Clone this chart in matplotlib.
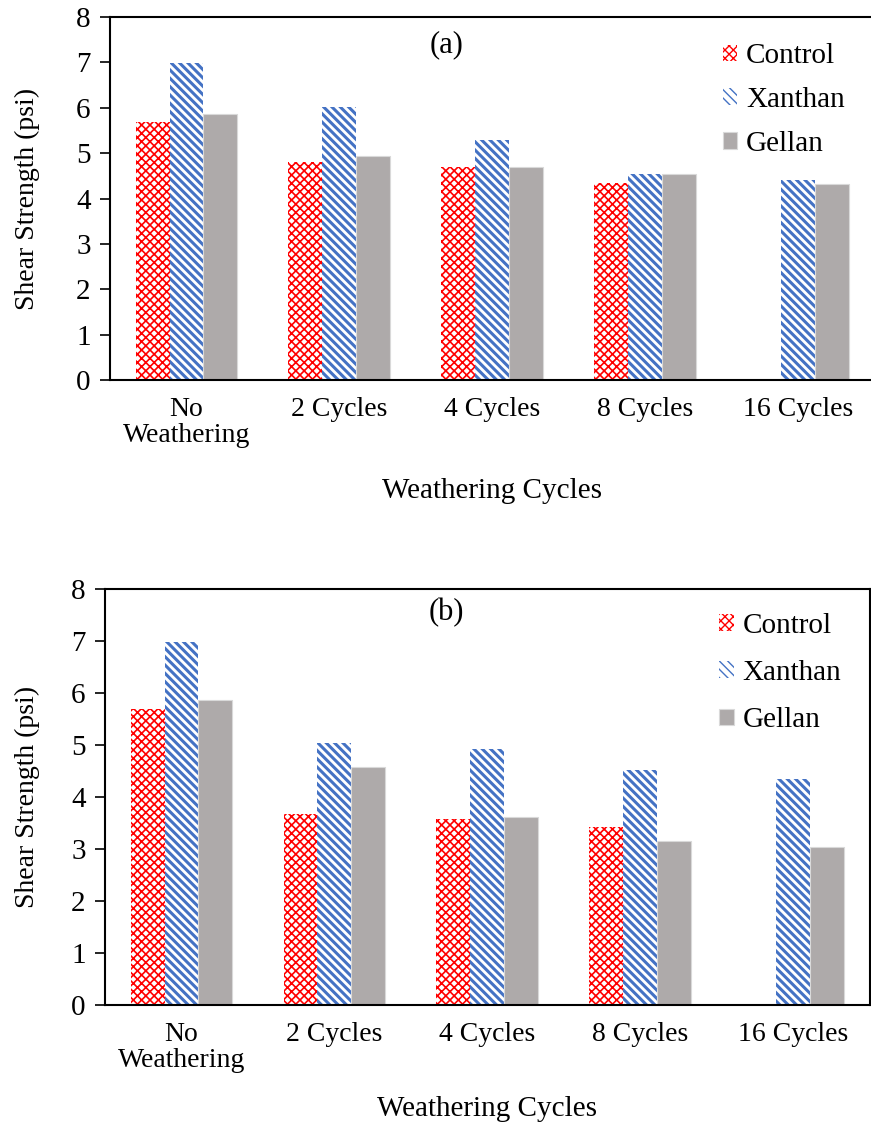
import numpy as np
import matplotlib.pyplot as plt

plt.rcParams['font.family'] = ['Liberation Serif', 'DejaVu Serif']

categories = ["No\nWeathering", "2 Cycles", "4 Cycles", "8 Cycles", "16 Cycles"]
series = ["Control", "Xanthan", "Gellan"]

# panel (a)
control_a = [5.68, 4.80, 4.69, 4.34, 0]
xanthan_a = [6.98, 6.01, 5.29, 4.54, 4.41]
gellan_a = [5.86, 4.93, 4.69, 4.53, 4.32]

# panel (b)
control_b = [5.69, 3.68, 3.58, 3.42, 0]
xanthan_b = [6.98, 5.04, 4.92, 4.52, 4.35]
gellan_b = [5.87, 4.58, 3.62, 3.15, 3.04]

red = "#FF0000"
blue = "#4472C4"
gray = "#AEAAAA"


def hatched_bars(ax, x, vals, w, color, hatch, hlw, label):
    with plt.rc_context({'hatch.linewidth': hlw}):
        bars = ax.bar(x, vals, w, facecolor="white", edgecolor=color, hatch=hatch, lw=0, label=label)
    for b in bars:
        if hasattr(b, "set_hatch_linewidth"):
            b.set_hatch_linewidth(hlw)
    return bars


def draw_panel(ax, control, xanthan, gellan, tag, tag_xy, leg_xy, leg_sp):
    x = np.arange(len(categories))
    w = 0.222
    hatched_bars(ax, x - w, control, w, red, "xxxx", 1.2, series[0])
    hatched_bars(ax, x, xanthan, w, blue, "\\\\\\\\", 2.2, series[1])
    ax.bar(x + w, gellan, w, color=gray, edgecolor="#D9D9D9", lw=0.8, label=series[2])
    ax.set_xlim(-0.5, 4.5)
    ax.set_ylim(0, 8)
    ax.set_yticks(range(0, 9))
    ax.set_xticks(x)
    ax.set_xticklabels(categories, fontsize=20, linespacing=1.05)
    ax.tick_params(axis="x", length=0, pad=12)
    ax.tick_params(axis="y", labelsize=21, length=7, width=1.2, direction="out", pad=7)
    for s in ax.spines.values():
        s.set_linewidth(1.5)
    ax.set_ylabel("Shear Strength (psi)", fontsize=20)
    ax.set_xlabel("Weathering Cycles", fontsize=21)
    ax.text(tag_xy[0], tag_xy[1], tag, transform=ax.transAxes, fontsize=22, ha="center", va="center")
    ax.legend(loc="upper left", bbox_to_anchor=leg_xy, frameon=False, fontsize=21,
              handlelength=0.5, handleheight=0.5, handletextpad=0.3, labelspacing=leg_sp,
              borderpad=0)


fig = plt.figure(figsize=(8.71, 11.28), dpi=100)
ax1 = fig.add_axes([0.1263, 0.6631, 0.878, 0.3218])
ax2 = fig.add_axes([0.1206, 0.1090, 0.878, 0.3688])

draw_panel(ax1, control_a, xanthan_a, gellan_a, "(a)", (0.44, 0.923), (0.782, 0.968), 0.61)
draw_panel(ax2, control_b, xanthan_b, gellan_b, "(b)", (0.446, 0.943), (0.784, 0.978), 0.73)

ax1.yaxis.set_label_coords(-0.092, 0.5)
ax2.yaxis.set_label_coords(-0.085, 0.5)
ax1.xaxis.set_label_coords(0.5, -0.27)
ax2.xaxis.set_label_coords(0.5, -0.219)

fig.savefig("out.png", dpi=100)
